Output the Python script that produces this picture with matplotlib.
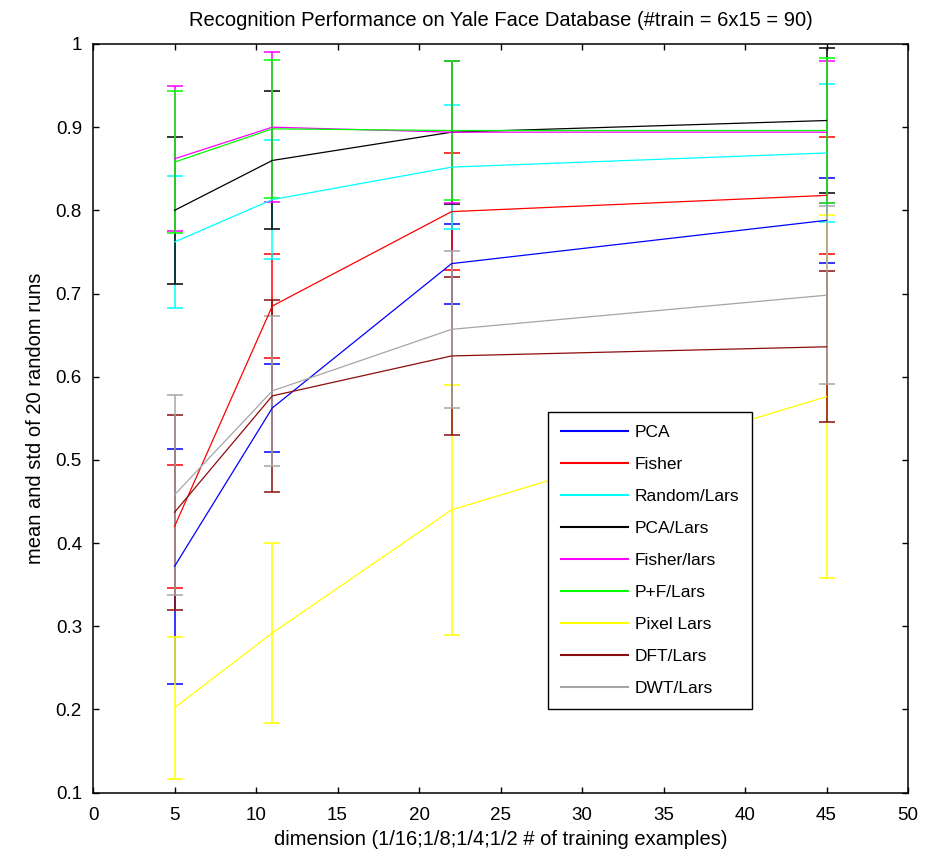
import matplotlib
matplotlib.use("Agg")
import matplotlib.pyplot as plt

plt.rcParams['font.family'] = ['Liberation Sans', 'DejaVu Sans']

x = [5, 11, 22, 45]

labels = ["PCA", "Fisher", "Random/Lars", "PCA/Lars", "Fisher/lars",
          "P+F/Lars", "Pixel Lars", "DFT/Lars", "DWT/Lars"]

pca_mean = [0.372, 0.5625, 0.736, 0.788]
pca_std = [0.141, 0.053, 0.048, 0.051]
fisher_mean = [0.420, 0.685, 0.7985, 0.818]
fisher_std = [0.074, 0.062, 0.070, 0.070]
random_lars_mean = [0.762, 0.813, 0.852, 0.869]
random_lars_std = [0.079, 0.071, 0.075, 0.083]
pca_lars_mean = [0.800, 0.860, 0.894, 0.908]
pca_lars_std = [0.088, 0.083, 0.086, 0.087]
fisher_lars_mean = [0.862, 0.900, 0.894, 0.894]
fisher_lars_std = [0.087, 0.090, 0.085, 0.085]
pf_lars_mean = [0.858, 0.898, 0.896, 0.896]
pf_lars_std = [0.085, 0.083, 0.084, 0.087]
pixel_lars_mean = [0.202, 0.292, 0.440, 0.576]
pixel_lars_std = [0.085, 0.108, 0.150, 0.218]
dft_lars_mean = [0.437, 0.577, 0.625, 0.636]
dft_lars_std = [0.117, 0.1155, 0.095, 0.091]
dwt_lars_mean = [0.458, 0.583, 0.657, 0.698]
dwt_lars_std = [0.120, 0.090, 0.094, 0.107]

means = [pca_mean, fisher_mean, random_lars_mean, pca_lars_mean, fisher_lars_mean,
         pf_lars_mean, pixel_lars_mean, dft_lars_mean, dwt_lars_mean]
stds = [pca_std, fisher_std, random_lars_std, pca_lars_std, fisher_lars_std,
        pf_lars_std, pixel_lars_std, dft_lars_std, dwt_lars_std]
colors = [(0, 0, 1), (1, 0, 0), (0, 1, 1), (0, 0, 0), (1, 0, 1),
          (0, 1, 0), (1, 1, 0), (0.55, 0.05, 0.05), (0.65, 0.65, 0.65)]

xticks = [0, 5, 10, 15, 20, 25, 30, 35, 40, 45, 50]
yticks = [0.1, 0.2, 0.3, 0.4, 0.5, 0.6, 0.7, 0.8, 0.9, 1.0]
ytick_labels = ["0.1", "0.2", "0.3", "0.4", "0.5", "0.6", "0.7", "0.8", "0.9", "1"]

fig = plt.figure(figsize=(9.31, 8.56), dpi=100)
ax = fig.add_axes([0.0999, 0.074, 0.8754, 0.8746])

handles = []
for m, s, c, lab in zip(means, stds, colors, labels):
    eb = ax.errorbar(x, m, yerr=s, color=c, linewidth=0.9, elinewidth=1.1,
                     capsize=5.5, capthick=1.1, label=lab)
    handles.append(eb[0])

ax.set_xlim(0, 50)
ax.set_ylim(0.1, 1.0)
ax.set_xticks(xticks)
ax.set_xticklabels([str(t) for t in xticks])
ax.set_yticks(yticks)
ax.set_yticklabels(ytick_labels)
ax.tick_params(direction='in', top=True, right=True, length=4, width=1,
               labelsize=13.5)
ax.tick_params(axis='x', pad=10)
ax.tick_params(axis='y', pad=8)
for sp in ax.spines.values():
    sp.set_linewidth(1.1)

ax.set_title("Recognition Performance on Yale Face Database (#train = 6x15 = 90)",
             fontsize=14.5, pad=13)
ax.set_xlabel("dimension (1/16;1/8;1/4;1/2 # of training examples)", fontsize=14.5, labelpad=5)
ax.set_ylabel("mean and std of 20 random runs", fontsize=14.5, labelpad=8)

leg = ax.legend(handles, labels, loc='upper left', bbox_to_anchor=(0.558, 0.5085),
                fontsize=12.5, frameon=True, fancybox=False, framealpha=1,
                edgecolor='black', handlelength=3.85, handletextpad=0.4,
                labelspacing=0.97, borderpad=0.75, borderaxespad=0)
leg.get_frame().set_linewidth(1.0)
for ln in leg.get_lines():
    ln.set_linewidth(1.5)

fig.savefig("out.png", dpi=100)
